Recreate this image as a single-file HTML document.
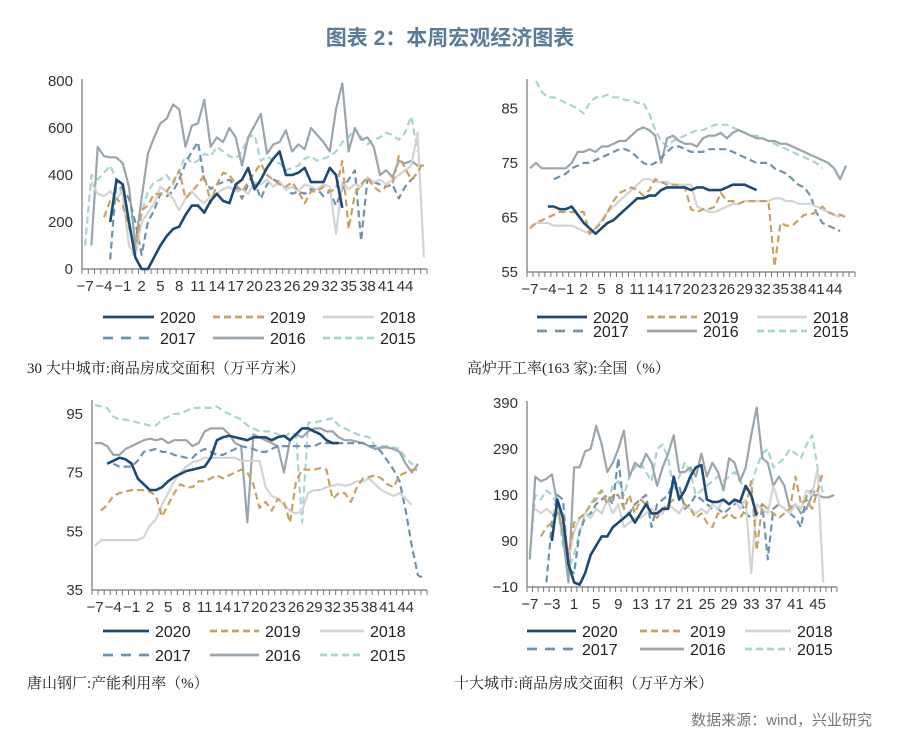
<!DOCTYPE html>
<html><head><meta charset="utf-8">
<style>
html,body{margin:0;padding:0;background:#fff;}
body{width:900px;height:739px;position:relative;overflow:hidden;font-family:"Liberation Sans","Noto Sans CJK SC",sans-serif;}
.t{position:absolute;white-space:nowrap;}
</style></head>
<body>
<div class="t" style="left:0;width:900px;text-align:center;top:22px;font-size:21px;font-weight:bold;color:#5b7c99;">图表 2：本周宏观经济图表</div>
<div class="t" style="left:27px;top:357px;font-size:15px;color:#222;font-family:'Liberation Serif','Noto Serif CJK SC',serif;">30 大中城市:商品房成交面积（万平方米）</div>
<div class="t" style="left:467px;top:357px;font-size:15px;color:#222;font-family:'Liberation Serif','Noto Serif CJK SC',serif;">高炉开工率(163 家):全国（%）</div>
<div class="t" style="left:27px;top:672px;font-size:15px;color:#222;font-family:'Liberation Serif','Noto Serif CJK SC',serif;">唐山钢厂:产能利用率（%）</div>
<div class="t" style="left:454px;top:672px;font-size:15px;color:#222;font-family:'Liberation Serif','Noto Serif CJK SC',serif;">十大城市:商品房成交面积（万平方米）</div>
<div class="t" style="right:28px;top:709px;font-size:15px;color:#777;">数据来源：wind，兴业研究</div>
<svg id="s" width="900" height="739" style="position:absolute;left:0;top:0"></svg>
<script>
const years=["2020","2019","2018","2017","2016","2015"];
const colors=["#1d4a73","#c9a066","#d4d4d4","#6f93ad","#9ba5ad","#a6d6d1"];
const dashed=[false,true,false,true,false,true];
// Panel 1: 30 cities (start index -7)
const p1s2020=[null,null,null,null,200,380,360,200,50,0,0,50,100,140,170,180,230,270,270,240,290,320,290,280,360,380,430,340,380,430,470,500,400,400,410,430,370,370,370,430,400,260];
const p1s2019=[null,null,null,220,290,300,270,180,80,250,270,320,320,330,370,420,300,330,360,400,280,360,410,400,360,330,370,410,450,400,380,360,350,370,330,280,330,330,350,330,340,460,170,320,360,390,350,330,350,360,480,430,380,410,460];
const p1s2018=[null,370,320,310,330,300,330,100,60,200,240,280,350,330,300,250,300,330,300,280,310,320,340,350,330,340,320,370,360,380,350,370,340,350,330,360,350,340,360,350,150,370,340,360,350,390,370,380,360,380,400,420,440,580,50];
const p1s2017=[null,null,null,null,40,380,340,300,200,60,200,250,320,310,330,380,450,500,540,380,340,360,370,380,350,300,360,370,300,360,380,370,340,320,330,320,340,340,310,330,270,340,380,420,120,380,370,360,350,360,300,350,380,400];
const p1s2016=[null,100,520,480,475,475,450,350,100,300,490,560,620,640,700,680,520,610,620,720,520,560,540,600,560,440,560,610,660,490,530,540,590,500,530,510,600,570,540,500,680,790,500,600,550,560,520,400,420,390,460,450,460,440,440];
const p1s2015=[100,400,380,410,440,380,310,100,50,240,330,370,380,400,360,420,480,450,460,490,480,520,500,480,470,500,560,570,460,480,460,450,420,430,440,470,480,460,470,480,500,540,560,600,560,530,550,560,580,570,550,580,650,500];
// Panel 2: blast furnace
const p2s2020=[null,null,null,67,67,66.5,66.5,67,65.5,64,63,62,63,64,64.5,65.5,66.5,67.5,68.5,68.5,69,69,70,70.5,70.5,70.5,70.5,70,70.5,70.5,70,70,70,70.5,71,71,71,70.5,70];
const p2s2019=[63,64,64.5,65,65.5,66,66,66,66,66,62,63,64,66,68,69.5,70,70.5,70,69,70,72,71.5,71,71,71,70.5,66.5,66,66.5,66.5,67,69.5,68,68,67.5,68,68,68,68,68,56,64,63.5,63.5,64.5,65.5,65.5,66,67,66,65.5,65.5,65];
const p2s2018=[63,64,64,64,63.5,63.5,63.5,63.5,63,62.5,62,63,64.5,66,67,68,69,70,71,72,72,71.5,71.5,71.5,71,71,71,71,67,66.5,66,66,66.5,67,67.5,67.5,68,68,68,68,68,68.5,68.5,68,68,67.5,67.5,67.5,67,66.5,66,65.5,65];
const p2s2017=[null,null,null,null,72,72.5,73,74,74.5,75,75,75.5,76,76.5,77,77.5,77.5,77,76,75,74.5,75,76,77,78,78,77.5,77,77,77,77.5,77.5,77.5,77.5,77,76.5,76,75.5,75,75,75,74,73.5,73,72,71,70.5,69,66,64,63.5,63,62.5];
const p2s2016=[74,75,74,74,74,74,74,75,77,77,77.5,77,78,78,78.5,79,79,80,81,81.5,81,80,75,79.5,80,79,78.5,78.5,78,79.5,80,80,80.5,79.5,80.5,81,80.5,80,79.5,79.5,79,79,78.5,78.5,78,77.5,77,76.5,76,75.5,75,74,72,74.5];
const p2s2015=[null,90,88,87,87,86.5,86,85.5,85,84,86,87,87,87.5,87,87,86.5,86.5,86,86,84,81,79,78,79,79.5,80,80.5,81,81,81.5,82,82,82,81.5,81,80.5,80,80,79.5,79,78.5,78,77.5,77,76.5,76,75.5,75,74];
// Panel 3: Tangshan
const p3s2020=[null,null,78,79,80,79.5,78,73,71,69,69,70,72,73.5,74.5,75.5,76,76.5,77,80,86,87,87.5,87,86.5,86,87,87,87,86,87,87.5,86,88,90,90,89,88,86,85,85];
const p3s2019=[null,62,64,67,68,68.5,69,69,69,68.5,67,60,64,68,71,70,70,72,72,73,74,73,74,75,76,75,71,63,65,62,66,65,58,72,76,76,76,76.5,76,66,68,68,65,70,73,73.5,74,73,71,70,74,75,76,76];
const p3s2018=[50,52,52,52,52,52,52,52,53,57,59,64,68,72,75,77,78.5,79,80,80,80,80,80,80,79,79,79,79,70,67,66,64,62,61,62,68,69,69,70,70.5,71,70.5,71,72,72,73,71,69,68,67,68,66,64];
const p3s2017=[null,null,null,78,77,77,77,79,82,82.5,83,82,82,81,80.5,80,80,82,83,82,81,81,82,83,84,83.5,83,82,82,83,84,84,84,84,84,84,84,85,85,85,85,85,85,85,85,84,84,82,79,76,72,62,50,40,39];
const p3s2016=[85,85,84,81,81,83,84,85,86,86.5,86,86.5,85,86,86,86,84,85,89,90,90,90,88,85,84,58,88,87,86,85,84,75,86,88,87,89,90,90,89,89,87,86,86,85.5,85,84,83,83.5,83.5,83,82,78,75,78];
const p3s2015=[98,97.5,97,94,93,93,92.5,92,91.5,91,91,93,94,95,95,96,97,97,97,97,97.5,96,95,94,93,91,90,89,89,89,88,87,88.5,88,58,92,92,92.5,93,93.5,91,90,89,88,87.5,87,84,84,84,83.5,83,80,78,77];
// Panel 4: 10 cities
const p4s2020=[null,null,null,null,90,180,140,40,0,-5,20,60,80,100,100,120,130,140,150,130,150,170,150,150,160,160,230,180,200,230,250,255,180,175,175,180,170,180,175,210,190,145];
const p4s2019=[null,null,100,120,130,150,120,60,130,140,150,170,180,200,170,190,190,160,190,150,180,170,150,140,160,170,180,190,170,160,140,150,130,120,150,140,150,140,140,160,220,70,170,160,150,140,150,160,230,170,180,160,200,240];
const p4s2018=[null,160,150,160,150,160,150,50,110,140,150,140,160,150,180,150,170,120,130,140,140,150,160,150,150,170,160,150,170,160,150,160,150,170,160,180,170,180,160,180,20,170,160,150,210,170,160,150,170,160,200,190,250,0];
const p4s2017=[null,null,null,0,130,190,180,30,20,110,140,150,170,180,190,170,270,160,150,170,180,190,120,170,180,190,220,210,160,170,190,180,170,160,160,150,160,170,180,150,140,150,170,50,160,170,160,150,140,120,190,200,190];
const p4s2016=[50,230,220,225,235,170,100,0,250,250,285,290,340,300,240,260,290,330,230,260,250,280,260,210,250,280,320,240,240,250,230,280,230,260,240,200,270,260,220,250,320,380,270,260,210,230,210,160,170,150,160,190,190,185,185,190];
const p4s2015=[60,190,180,200,190,170,80,30,60,110,150,170,190,200,170,210,220,190,230,250,260,240,220,290,300,270,200,230,260,240,190,200,210,220,230,220,230,240,220,200,210,250,280,290,250,260,270,290,280,270,300,320,250,190];

const panels=[
 {id:"p1",x0:82,w:345,n:55,yTop:81,yBot:269,min:0,max:800,ticks:[0,200,400,600,800],lstep:3,lend:44,
  series:[p1s2020,p1s2019,p1s2018,p1s2017,p1s2016,p1s2015],
  leg:{rows:[317,338],lx:[103,213,323],tx:[160,270,380]}},
 {id:"p2",x0:527,w:328,n:55,yTop:81,yBot:272,min:55,max:90,ticks:[55,65,75,85],lstep:3,lend:44,
  series:[p2s2020,p2s2019,p2s2018,p2s2017,p2s2016,p2s2015],
  leg:{rows:[317,331],lx:[537,647,757],tx:[593,703,813]}},
 {id:"p3",x0:92,w:335,n:55,yTop:402,yBot:590,min:35,max:99,ticks:[35,55,75,95],lstep:3,lend:44,
  series:[p3s2020,p3s2019,p3s2018,p3s2017,p3s2016,p3s2015],
  leg:{rows:[631,655],lx:[103,210,320],tx:[155,265,370]}},
 {id:"p4",x0:527,w:310,n:56,yTop:403,yBot:587,min:-10,max:390,ticks:[-10,90,190,290,390],lstep:4,lend:45,
  series:[p4s2020,p4s2019,p4s2018,p4s2017,p4s2016,p4s2015],
  leg:{rows:[631,649],lx:[527,640,745],tx:[582,690,797]}}
];
const NS="http://www.w3.org/2000/svg";
const svg=document.getElementById("s");
function mk(tag,attrs,parent){const e=document.createElementNS(NS,tag);for(const k in attrs)e.setAttribute(k,attrs[k]);(parent||svg).appendChild(e);return e;}
panels.forEach(p=>{
  const g=mk("g",{});
  
  
  const step=p.w/p.n;
  const xs=i=>p.x0+i*step+step/2;
  const ys=v=>p.yBot-(v-p.min)/(p.max-p.min)*(p.yBot-p.yTop);
  const yax=mk("line",{x1:p.x0,x2:p.x0,y1:p.yTop-2,y2:p.yBot,stroke:"#777","stroke-width":1.2},g);
  
  
  const xax=mk("line",{x1:p.x0,x2:p.x0+p.w,y1:p.yBot,y2:p.yBot,stroke:"#777","stroke-width":1.2},g);
  
  
  for(let i=0;i<=p.n;i++){mk("line",{x1:p.x0+i*step,x2:p.x0+i*step,y1:p.yBot,y2:p.yBot+5,stroke:"#777","stroke-width":1},g);}
  p.ticks.forEach(t=>{
    const tx=mk("text",{x:p.x0-9,y:ys(t)+5,"text-anchor":"end","font-size":15,fill:"#333"},g);
    tx.textContent=t<0?"−"+(-t):t;
    
    
  });
  for(let v=-7;v<=p.lend;v+=p.lstep){
    const tx=mk("text",{x:xs(v+7),y:p.yBot+22,"text-anchor":"middle","font-size":15,fill:"#333"},g);
    tx.textContent=v<0?"−"+(-v):v;
    
    
  }
  const order=[5,4,3,2,1,0];
  order.forEach(k=>{
    const arr=p.series[k];let d="",pen=false;
    arr.forEach((v,i)=>{if(v===null||v===undefined){pen=false;return;}d+=(pen?"L":"M")+xs(i).toFixed(1)+" "+ys(v).toFixed(1);pen=true;});
    const path=mk("path",{d:d,fill:"none",stroke:colors[k],"stroke-width":k==0?2.6:2.2,"stroke-dasharray":dashed[k]?"7 4":"none","stroke-linejoin":"round"},g);
    
    
  });
  for(let k=0;k<6;k++){
    const r=k<3?0:1,c=k%3;
    const y=p.leg.rows[r];
    const lx=p.leg.lx[c];
    const tx0=p.leg.tx[c];
    const ln=mk("line",{x1:lx,x2:tx0-6,y1:y,y2:y,stroke:colors[k],"stroke-width":2.8,"stroke-dasharray":dashed[k]?(k==3?"10 8":"7 4"):"none"},g);
    
    
    const t=mk("text",{x:tx0,y:y+6,"font-size":16,fill:"#222"},g);
    t.textContent=years[k];
    
    
  }
});
</script>
</body></html>
